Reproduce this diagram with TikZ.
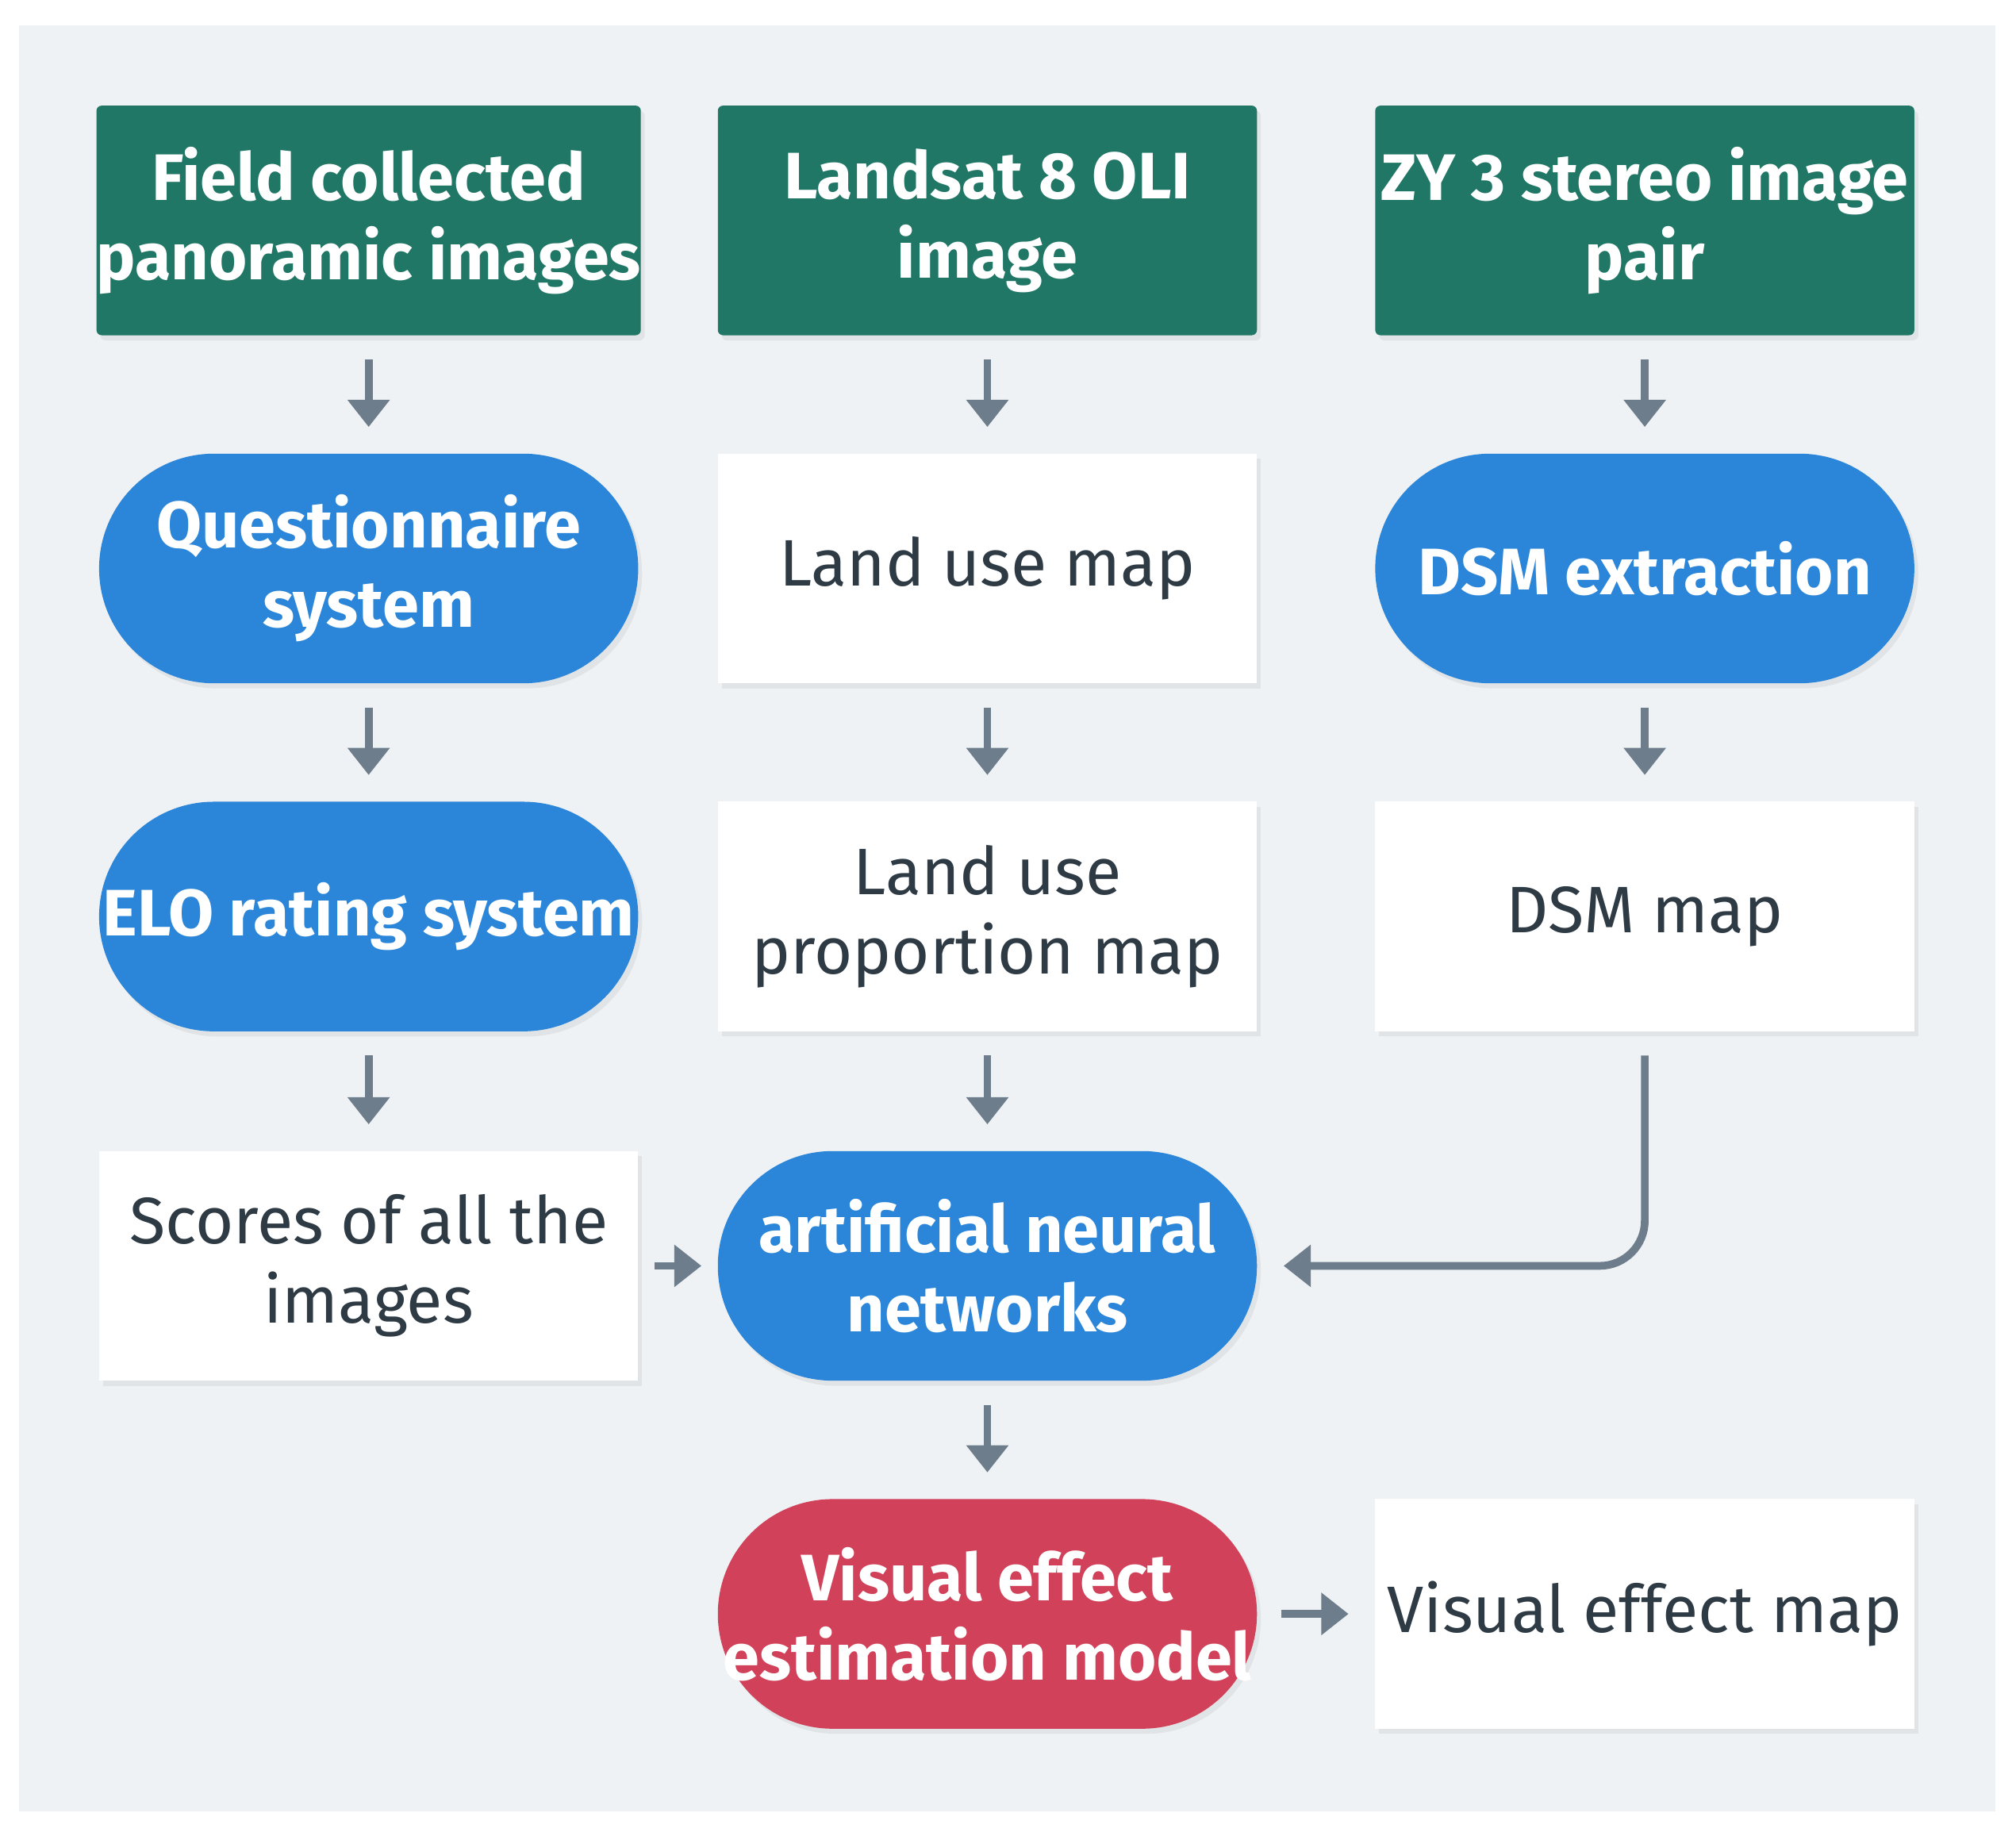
\documentclass[tikz,border=0pt]{standalone}
\usepackage{fontspec}
\setmainfont{Fira Sans}
\usetikzlibrary{arrows.meta,shadows}
\definecolor{bg}{HTML}{EEF2F5}
\definecolor{grn}{HTML}{217766}
\definecolor{blu}{HTML}{2B86D9}
\definecolor{rd}{HTML}{D1425A}
\definecolor{arr}{HTML}{6E7D8C}
\definecolor{txt}{HTML}{2E3A44}
\begin{document}
\begin{tikzpicture}[x=0.01cm,y=-0.01cm,
 box/.style={minimum width=4.18cm,minimum height=1.78cm,align=center,font=\fontsize{14.5}{17.5}\selectfont,inner sep=0pt,drop shadow={opacity=0.12,shadow xshift=0.03cm,shadow yshift=-0.04cm}},
 src/.style={box,fill=grn,text=white,font=\fontsize{14.5}{17.5}\selectfont\bfseries,rounded corners=0.04cm},
 proc/.style={box,fill=blu,text=white,font=\fontsize{14.5}{17.5}\selectfont\bfseries,rounded corners=0.89cm},
 res/.style={box,fill=white,text=txt},
 ar/.style={draw=arr,line width=1.7pt,-{Triangle[length=6pt,width=9pt]},shorten <=0.18cm,shorten >=0.2cm}]
\fill[white] (0,0) rectangle (1564,1421);
\fill[bg] (15,20) rectangle (1548,1405);
\node[src] (a1) at (286,171) {Field collected\\panoramic images};
\node[src] (b1) at (766,171) {Landsat 8 OLI\\image};
\node[src] (c1) at (1276,171) {ZY 3 stereo image\\pair};
\node[proc] (a2) at (286,441) {Questionnaire\\system};
\node[res] (b2) at (766,441) {Land use map};
\node[proc] (c2) at (1276,441) {DSM extraction};
\node[proc] (a3) at (286,711) {ELO rating system};
\node[res] (b3) at (766,711) {Land use\\proportion map};
\node[res] (c3) at (1276,711) {DSM map};
\node[res] (a4) at (286,982) {Scores of all the\\images};
\node[proc] (b4) at (766,982) {artificial neural\\networks};
\node[proc,fill=rd] (b5) at (766,1252) {Visual effect\\estimation model};
\node[res] (c5) at (1276,1252) {Visual effect map};
\foreach \u/\v in {a1/a2,a2/a3,a3/a4,b1/b2,b2/b3,b3/b4,c1/c2,c2/c3,b4/b5}
  \draw[ar] (\u) -- (\v);
\draw[ar,shorten <=0.12cm,shorten >=0.12cm] (a4) -- (b4);
\draw[ar,shorten <=0.18cm,shorten >=0.2cm] (b5) -- (c5);
\draw[ar,rounded corners=0.35cm] (c3.south) -- (c3.south |- b4.east) -- (b4.east);
\end{tikzpicture}
\end{document}
